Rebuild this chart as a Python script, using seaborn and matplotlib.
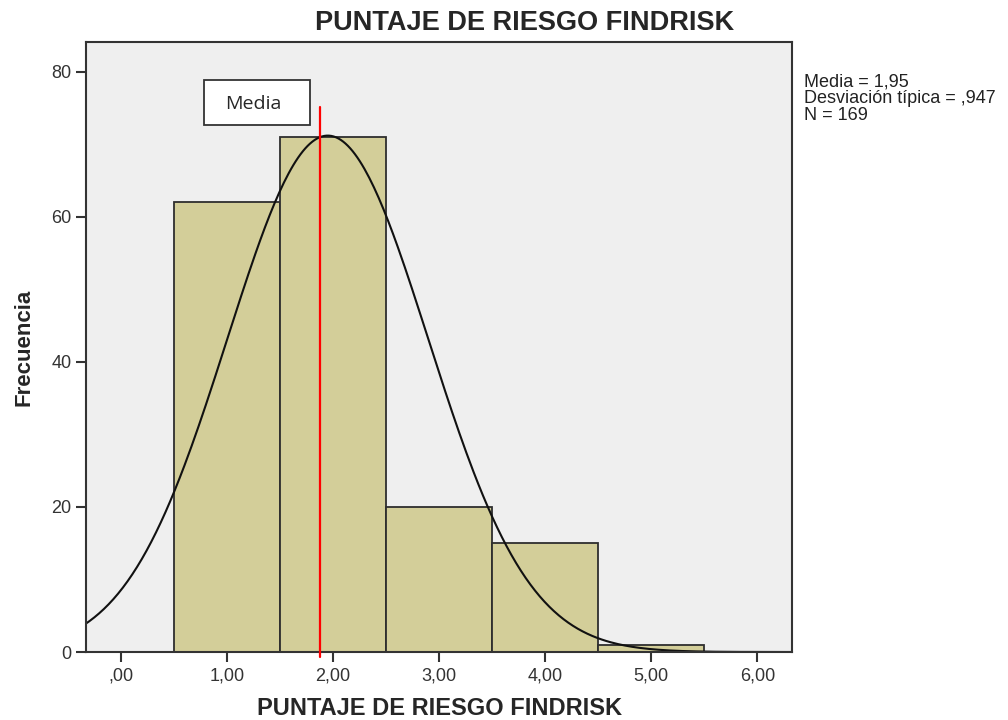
import numpy as np
import pandas as pd
import seaborn as sns
import matplotlib.pyplot as plt
from matplotlib.patches import Rectangle

# histograma del puntaje (bins de ancho 1)
centros = [1, 2, 3, 4, 5]
frecuencias = [62, 71, 20, 15, 1]
bordes = [0.5, 1.5, 2.5, 3.5, 4.5, 5.5]

media = 1.95
desv = 0.947
n_total = 169
linea_media_x = 1.88
linea_media_top = 75.2

ticks_x = [0, 1, 2, 3, 4, 5, 6]
etiquetas_x = [",00", "1,00", "2,00", "3,00", "4,00", "5,00", "6,00"]
ticks_y = [0, 20, 40, 60, 80]

sns.set_style("ticks")
plt.rcParams['font.family'] = ['Liberation Sans', 'DejaVu Sans']

fig = plt.figure(figsize=(10.08, 7.2), dpi=100)
ax = fig.add_axes([0.0853, 0.0944, 0.7007, 0.8473])
ax.set_facecolor("#efefef")

df = pd.DataFrame({"puntaje": centros, "frecuencia": frecuencias})
sns.histplot(data=df, x="puntaje", weights="frecuencia", bins=bordes,
             color="#d3ce99", edgecolor="#2e2e2e", linewidth=1.3, alpha=1, ax=ax)

# curva normal escalada
xs = np.linspace(-0.34, 6.34, 300)
ys = n_total * 1.0 / (desv * np.sqrt(2 * np.pi)) * np.exp(-0.5 * ((xs - media) / desv) ** 2)
sns.lineplot(x=xs, y=ys, color="#111111", linewidth=1.5, ax=ax)

ax.plot([linea_media_x, linea_media_x], [-0.7, linea_media_top], color="red",
        linewidth=1.6, clip_on=False, zorder=5)

ax.set_xlim(-0.33, 6.33)
ax.set_ylim(0, 84.1)
ax.set_xticks(ticks_x)
ax.set_xticklabels(etiquetas_x)
ax.set_yticks(ticks_y)
ax.tick_params(axis="both", labelsize=13, color="#333333", width=1.5, length=7,
               labelcolor="#333333")
ax.tick_params(axis="x", pad=4)
for s in ax.spines.values():
    s.set_visible(True)
    s.set_color("#333333")
    s.set_linewidth(1.5)

ax.set_xlabel("PUNTAJE DE RIESGO FINDRISK", fontsize=17, fontweight="bold", labelpad=9)
ax.set_ylabel("Frecuencia", fontsize=16, fontweight="bold", labelpad=12)

fig.text(0.52, 0.968, "PUNTAJE DE RIESGO FINDRISK", ha="center", va="center",
         fontsize=19.5, fontweight="bold")

fig.text(0.798, 0.898, "Media = 1,95\nDesviación típica = ,947\nN = 169",
         ha="left", va="top", fontsize=13, linespacing=1.0, color="#222222")

# cuadro "Media"
ax.add_patch(Rectangle((0.78, 72.7), 1.0, 6.1, facecolor="white", edgecolor="#333333",
                       linewidth=1.3, zorder=6))
ax.text(1.245, 75.5, "Media", ha="center", va="center", fontsize=14,
        family=["Open Sans", "DejaVu Sans"], zorder=7)

fig.savefig("out.png", dpi=100, facecolor="white")
